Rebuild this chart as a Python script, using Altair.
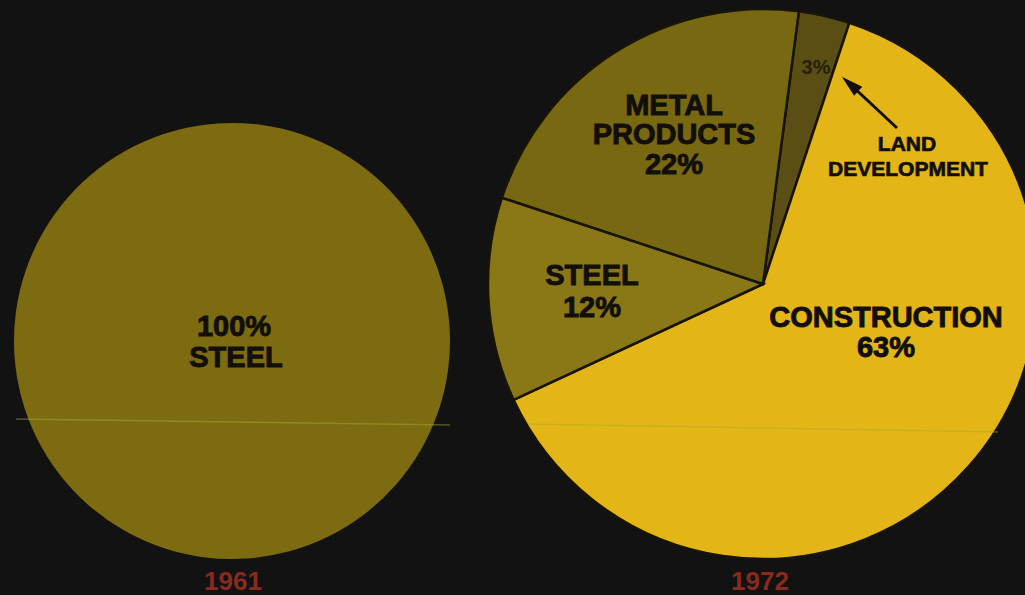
import math
import altair as alt
import pandas as pd

# ---- data ----
sectors_1961 = ["STEEL"]
shares_1961 = [100]
sectors_1972 = ["LAND DEVELOPMENT", "CONSTRUCTION", "STEEL", "METAL PRODUCTS"]
shares_1972 = [3, 63, 12, 22]
years = ["1961", "1972"]

# ---- style / layout ----
W, H = 1025, 595
BG = "#121212"
COLOR_1961 = "#7c6b11"
COLORS_1972 = ["#5a4e15", "#e3b517", "#8a7716", "#786812"]
EDGE = "#17140a"
INK = "#120f08"
YEAR_RED = "#8a2a1c"
FONT = "Liberation Sans"
START = math.radians(7.5)

px = alt.Scale(domain=[0, W], range=[0, W])
py = alt.Scale(domain=[0, H], range=[0, H])
theta_scale = alt.Scale(range=[START, START + 2 * math.pi])

df61 = pd.DataFrame({"sector": sectors_1961, "share": shares_1961, "idx": list(range(len(sectors_1961)))})
df72 = pd.DataFrame({"sector": sectors_1972, "share": shares_1972, "idx": list(range(len(sectors_1972)))})

pie61 = alt.Chart(df61).mark_arc(x=232, y=341, outerRadius=218).encode(
    theta=alt.Theta("share:Q", stack=True, scale=theta_scale),
    order=alt.Order("idx:Q"),
    color=alt.value(COLOR_1961),
)

pie72 = alt.Chart(df72).mark_arc(
    x=763, y=284, outerRadius=275, stroke=EDGE, strokeWidth=2.5
).encode(
    theta=alt.Theta("share:Q", stack=True, scale=theta_scale),
    order=alt.Order("idx:Q"),
    color=alt.Color("sector:N", scale=alt.Scale(domain=sectors_1972, range=COLORS_1972), legend=None),
)

# faint scan line crossing both discs
scan = pd.DataFrame({"x": [16, 528], "x2": [450, 998], "y": [419, 424], "y2": [425, 432]})
scan_layer = alt.Chart(scan).mark_rule(color="#a8b02a", opacity=0.45, strokeWidth=1.5).encode(
    x=alt.X("x:Q", scale=px, axis=None), x2="x2:Q",
    y=alt.Y("y:Q", scale=py, axis=None), y2="y2:Q",
)

s61 = dict(zip(sectors_1961, shares_1961))
s72 = dict(zip(sectors_1972, shares_1972))

big_lines = pd.DataFrame([
    {"t": f"{s61['STEEL']}%", "x": 234, "y": 336},
    {"t": "STEEL", "x": 236, "y": 367},
    {"t": "METAL", "x": 674, "y": 115},
    {"t": "PRODUCTS", "x": 674, "y": 144},
    {"t": f"{s72['METAL PRODUCTS']}%", "x": 674, "y": 174},
    {"t": "STEEL", "x": 592, "y": 285},
    {"t": f"{s72['STEEL']}%", "x": 592, "y": 317},
    {"t": "CONSTRUCTION", "x": 886, "y": 327},
    {"t": f"{s72['CONSTRUCTION']}%", "x": 886, "y": 357},
])
big = alt.Chart(big_lines).mark_text(
    font=FONT, fontWeight="bold", fontSize=29, color=INK, stroke=INK, strokeWidth=0.9,
    align="center", baseline="alphabetic"
).encode(x=alt.X("x:Q", scale=px, axis=None), y=alt.Y("y:Q", scale=py, axis=None), text="t:N")

land_lines = pd.DataFrame([
    {"t": "LAND", "x": 907, "y": 151},
    {"t": "DEVELOPMENT", "x": 908, "y": 176},
])
land = alt.Chart(land_lines).mark_text(
    font=FONT, fontWeight="bold", fontSize=21, color=INK, stroke=INK, strokeWidth=0.7,
    align="center", baseline="alphabetic"
).encode(x=alt.X("x:Q", scale=px, axis=None), y=alt.Y("y:Q", scale=py, axis=None), text="t:N")

small = alt.Chart(pd.DataFrame([{"t": f"{s72['LAND DEVELOPMENT']}%", "x": 816, "y": 74}])).mark_text(
    font=FONT, fontWeight="bold", fontSize=20, color="#262109", align="center", baseline="alphabetic"
).encode(x=alt.X("x:Q", scale=px, axis=None), y=alt.Y("y:Q", scale=py, axis=None), text="t:N")

year_df = pd.DataFrame({"t": years, "x": [233, 760], "y": [590, 590]})
year_layer = alt.Chart(year_df).mark_text(
    font=FONT, fontWeight="bold", fontSize=26, color=YEAR_RED, align="center", baseline="alphabetic"
).encode(x=alt.X("x:Q", scale=px, axis=None), y=alt.Y("y:Q", scale=py, axis=None), text="t:N")

arrow_shaft = alt.Chart(pd.DataFrame([{"x": 897, "y": 128, "x2": 851, "y2": 85}])).mark_rule(
    color=INK, strokeWidth=3
).encode(x=alt.X("x:Q", scale=px, axis=None), y=alt.Y("y:Q", scale=py, axis=None), x2="x2:Q", y2="y2:Q")

arrow_head = alt.Chart(pd.DataFrame([{"x": 850, "y": 84}])).mark_point(
    shape="M0,-1L0.55,1L-0.55,1Z", filled=True, color=INK, opacity=1, size=484, angle=312, strokeWidth=0
).encode(x=alt.X("x:Q", scale=px, axis=None), y=alt.Y("y:Q", scale=py, axis=None))

chart = alt.layer(
    pie61, pie72, scan_layer, big, land, small, year_layer, arrow_shaft, arrow_head
).resolve_scale(color="independent").properties(
    width=W, height=H, background=BG, padding=0,
    autosize=alt.AutoSizeParams(type="none"),
).configure_view(stroke=None)

chart.save("out.html", embed_options={"renderer": "svg", "actions": False})
